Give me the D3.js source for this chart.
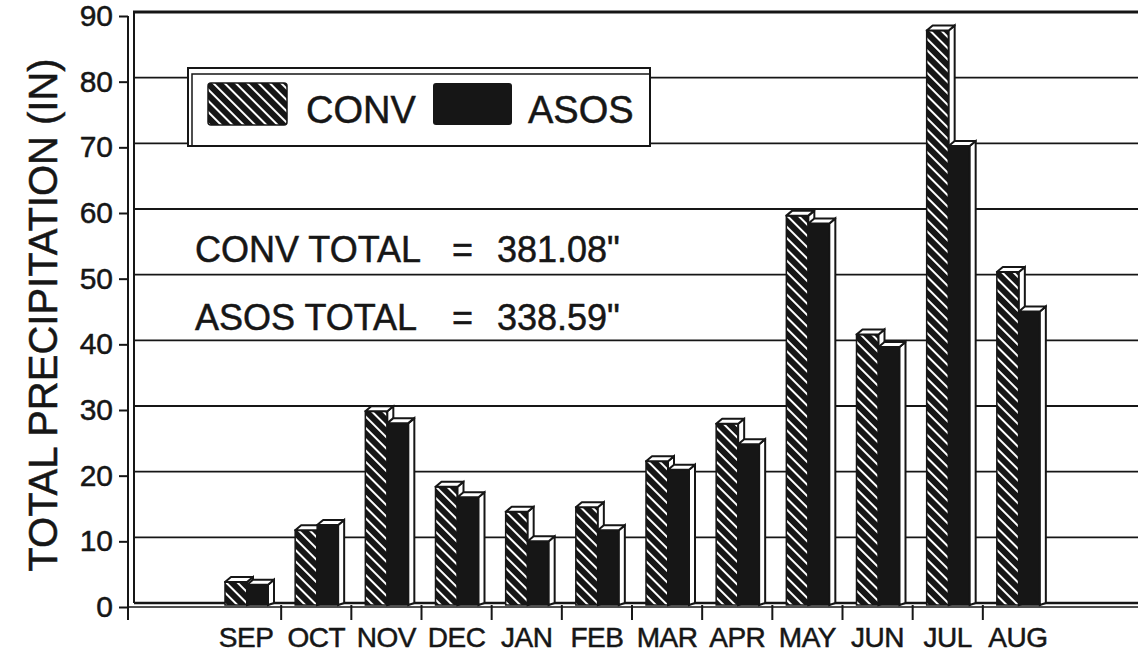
<!DOCTYPE html>
<html>
<head>
<meta charset="utf-8">
<script src="https://cdn.jsdelivr.net/npm/d3@7"></script>
<style>
  body { margin: 0; background: #fff; }
  svg { display: block; font-family: "Liberation Sans", Arial, sans-serif; }
  text { fill: #161616; stroke: #161616; stroke-width: 0.5px; }
</style>
</head>
<body>
<svg width="1138" height="654"></svg>
<script>
var months = ["SEP", "OCT", "NOV", "DEC", "JAN", "FEB", "MAR", "APR", "MAY", "JUN", "JUL", "AUG"];
var conv = [3.8, 11.7, 29.8, 18.3, 14.5, 15.2, 22.2, 27.9, 59.6, 41.5, 87.8, 51.0];
var asos = [3.4, 12.5, 28.0, 16.7, 10.0, 11.7, 20.9, 24.8, 58.4, 39.6, 70.2, 45.0];
var yTicks = [0, 10, 20, 30, 40, 50, 60, 70, 80, 90];
var seriesNames = ["CONV", "ASOS"];
var totals = ["381.08\"", "338.59\""];

var svg = d3.select("svg"),
    width = 1138,
    ink = "#161616";

var x = d3.scaleBand().domain(months).range([211, 1053]);
var y = d3.scaleLinear().domain([0, 90]).range([607, 16]);

// depth of the fake 3d
var dx = 6, dy = 5;

var defs = svg.append("defs");
var hatch = defs.append("pattern")
    .attr("id", "hatch")
    .attr("patternUnits", "userSpaceOnUse")
    .attr("width", 8)
    .attr("height", 8)
    .attr("patternTransform", "rotate(-45)");
hatch.append("rect").attr("width", 8).attr("height", 8).attr("fill", ink);
hatch.append("line")
    .attr("x1", 4).attr("y1", 0).attr("x2", 4).attr("y2", 8)
    .attr("stroke", "#fff").attr("stroke-width", 2);

// back wall gridlines
svg.append("g")
    .selectAll("line")
    .data(yTicks.slice(1, -1))
    .enter().append("line")
    .attr("x1", 134).attr("x2", width)
    .attr("y1", function(d) { return y(d) - 4; })
    .attr("y2", function(d) { return y(d) - 4; })
    .attr("stroke", ink).attr("stroke-width", 1.8);

// top border of the wall
svg.append("line")
    .attr("x1", 133).attr("x2", width)
    .attr("y1", y(90) - 4).attr("y2", y(90) - 4)
    .attr("stroke", ink).attr("stroke-width", 3);

// wall left edge and front axis line
svg.append("line")
    .attr("x1", 134).attr("x2", 134).attr("y1", y(90) - 4).attr("y2", 603)
    .attr("stroke", ink).attr("stroke-width", 2);
svg.append("line")
    .attr("x1", 128).attr("x2", 128).attr("y1", y(90)).attr("y2", 620)
    .attr("stroke", ink).attr("stroke-width", 2);

// floor
svg.append("line")
    .attr("x1", 134).attr("x2", width).attr("y1", 603).attr("y2", 603)
    .attr("stroke", ink).attr("stroke-width", 2.5);
svg.append("line")
    .attr("x1", 128).attr("x2", width).attr("y1", 607).attr("y2", 607)
    .attr("stroke", ink).attr("stroke-width", 1.5);

// y axis
var yAxis = svg.append("g")
    .attr("transform", "translate(128,0)")
    .call(d3.axisLeft(y).tickValues(yTicks).tickSize(9).tickPadding(6));
yAxis.select(".domain").remove();
yAxis.selectAll("line").attr("stroke", ink).attr("stroke-width", 2);
yAxis.selectAll("text")
    .attr("font-size", 30)
    .attr("font-family", "Liberation Sans, Arial, sans-serif")
    .attr("fill", ink);

// x ticks between months
svg.append("g")
    .selectAll("line")
    .data(months.slice(1))
    .enter().append("line")
    .attr("x1", function(d) { return x(d); })
    .attr("x2", function(d) { return x(d); })
    .attr("y1", 605).attr("y2", 620)
    .attr("stroke", ink).attr("stroke-width", 2);

svg.append("g")
    .selectAll("text")
    .data(months)
    .enter().append("text")
    .attr("x", function(d) { return x(d) + x.bandwidth() / 2; })
    .attr("y", 647)
    .attr("text-anchor", "middle")
    .attr("font-size", 28)
    .attr("letter-spacing", -0.5)
    .text(function(d) { return d; });

// bars
function bar(g, x0, w, v, fill) {
    var yt = y(v), yb = 605;
    g.append("rect")
        .attr("x", x0).attr("y", yt)
        .attr("width", w).attr("height", yb - yt)
        .attr("fill", fill).attr("stroke", ink).attr("stroke-width", 1.5);
    g.append("path")
        .attr("d", "M" + (x0 + w) + "," + yt + "L" + (x0 + w + dx) + "," + (yt - dy) +
            "L" + (x0 + w + dx) + "," + (yb - 2) + "L" + (x0 + w) + "," + yb + "Z")
        .attr("fill", "#fff").attr("stroke", ink).attr("stroke-width", 2);
    g.append("path")
        .attr("d", "M" + x0 + "," + yt + "L" + (x0 + dx) + "," + (yt - dy) +
            "L" + (x0 + w + dx) + "," + (yt - dy) + "L" + (x0 + w) + "," + yt + "Z")
        .attr("fill", "#fff").attr("stroke", ink).attr("stroke-width", 2)
        .attr("stroke-linejoin", "round");
}

var bars = svg.append("g");
months.forEach(function(m, i) {
    var g = bars.append("g");
    bar(g, x(m) + 14, 22, conv[i], "url(#hatch)");
    bar(g, x(m) + 36, 21, asos[i], ink);
});

// legend
var legend = svg.append("g");
legend.append("rect")
    .attr("x", 188).attr("y", 68).attr("width", 462).attr("height", 78)
    .attr("fill", "#fff").attr("stroke", ink).attr("stroke-width", 2);
legend.append("rect")
    .attr("x", 192).attr("y", 74).attr("width", 458).attr("height", 72)
    .attr("fill", "none").attr("stroke", ink).attr("stroke-width", 1.5);
legend.append("rect")
    .attr("x", 208).attr("y", 83).attr("width", 79).attr("height", 42).attr("rx", 3)
    .attr("fill", "url(#hatch)").attr("stroke", ink).attr("stroke-width", 1.5);
legend.append("rect")
    .attr("x", 433).attr("y", 83).attr("width", 79).attr("height", 42).attr("rx", 3)
    .attr("fill", ink);
legend.selectAll("text.lab")
    .data(seriesNames)
    .enter().append("text")
    .attr("class", "lab")
    .attr("x", function(d, i) { return i == 0 ? 306 : 528; })
    .attr("y", 123)
    .attr("font-size", 38)
    .text(function(d) { return d; });

// totals
var tot = svg.append("g");
seriesNames.forEach(function(s, i) {
    var ty = 262 + i * 68;
    tot.append("text").attr("x", 195).attr("y", ty).attr("font-size", 36).text(s + " TOTAL");
    tot.append("text").attr("x", 452).attr("y", ty).attr("font-size", 36).text("=");
    tot.append("text").attr("x", 497).attr("y", ty).attr("font-size", 36).text(totals[i]);
});

// y title
svg.append("text")
    .attr("transform", "translate(57,315) rotate(-90)")
    .attr("text-anchor", "middle")
    .attr("font-size", 40)
    .text("TOTAL PRECIPITATION (IN)");
</script>
</body>
</html>
